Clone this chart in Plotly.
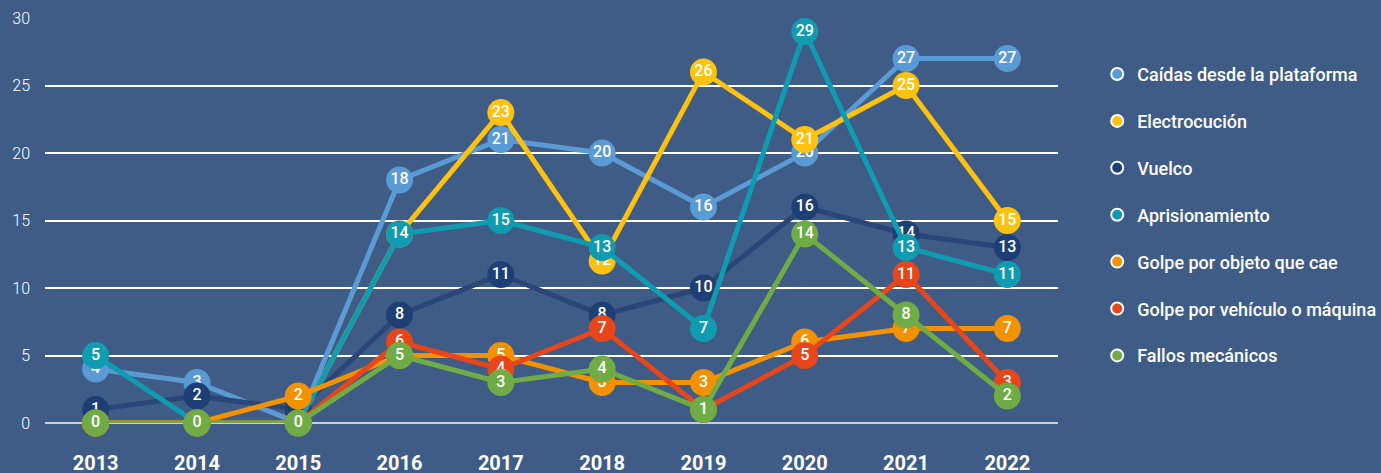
import plotly.graph_objects as go

years = ["2013", "2014", "2015", "2016", "2017", "2018", "2019", "2020", "2021", "2022"]
series_names = ["Caídas desde la plataforma", "Electrocución", "Vuelco", "Aprisionamiento",
                "Golpe por objeto que cae", "Golpe por vehículo o máquina", "Fallos mecánicos"]
caidas = [4, 3, 0, 18, 21, 20, 16, 20, 27, 27]
electrocucion = [0, 0, 0, 14, 23, 12, 26, 21, 25, 15]
vuelco = [1, 2, 1, 8, 11, 8, 10, 16, 14, 13]
aprisionamiento = [5, 0, 0, 14, 15, 13, 7, 29, 13, 11]
golpe_objeto = [0, 0, 2, 5, 5, 3, 3, 6, 7, 7]
golpe_vehiculo = [0, 0, 0, 6, 4, 7, 1, 5, 11, 3]
fallos = [0, 0, 0, 5, 3, 4, 1, 14, 8, 2]
y_ticks = [0, 5, 10, 15, 20, 25, 30]

values = [caidas, electrocucion, vuelco, aprisionamiento, golpe_objeto, golpe_vehiculo, fallos]
colors = ["#5B9BD5", "#FFC20E", "#1E3F73", "#0F9BB0", "#F39200", "#E6461A", "#6FAC46"]
line_colors = ["#5B9BD5", "#FFC20E", "#2A4679", "#0F9BB0", "#F39200", "#E6461A", "#6FAC46"]

BG = "#3F5C87"
FONT = "Roboto"

fig = go.Figure()
for name, vals, c, lc in zip(series_names, values, colors, line_colors):
    fig.add_trace(go.Scatter(
        x=years, y=vals, mode="lines+markers+text", name=name,
        line=dict(color=lc, width=5),
        marker=dict(color=c, size=27, line=dict(width=0)),
        text=[str(v) for v in vals], textposition="middle center",
        textfont=dict(color="white", size=16, family=FONT, weight=500),
        cliponaxis=False, showlegend=False, hoverinfo="skip"))

for i, (name, c) in enumerate(zip(series_names, colors)):
    fig.add_trace(go.Scatter(
        x=[None], y=[None], mode="markers", name=name,
        marker=dict(color=c, size=17, line=dict(color="white", width=2)),
        legendgroup=f"g{i}", showlegend=True))

fig.update_layout(
    width=1381, height=473,
    paper_bgcolor=BG, plot_bgcolor=BG,
    margin=dict(l=45, r=323, t=18, b=50, autoexpand=False),
    font=dict(family=FONT, color="white"),
    xaxis=dict(type="category", range=[-0.5, 9.5], showgrid=False, zeroline=False,
               showline=False, ticks="", ticklabelstandoff=26, automargin=False,
               tickfont=dict(size=20, color="white", family=FONT, weight="bold"),
               tickvals=years, ticktext=years),
    yaxis=dict(range=[0, 30], tickvals=y_ticks, showgrid=True, gridcolor="white", gridwidth=2,
               zeroline=True, zerolinecolor="#C9CED8", zerolinewidth=2, showline=False,
               ticks="", ticklabelstandoff=14, automargin=False,
               tickfont=dict(size=16, color="white", family=FONT, weight=300)),
    legend=dict(xref="container", yref="container", x=0.7945, y=0.882, xanchor="left", yanchor="top",
                font=dict(size=18, color="white", family=FONT, weight=500), tracegroupgap=20.5,
                bgcolor="rgba(0,0,0,0)", itemsizing="constant", maxheight=460),
    showlegend=True,
)

fig.write_html("out.html", config={"displayModeBar": False},
               post_script="document.body.style.margin='0';")
